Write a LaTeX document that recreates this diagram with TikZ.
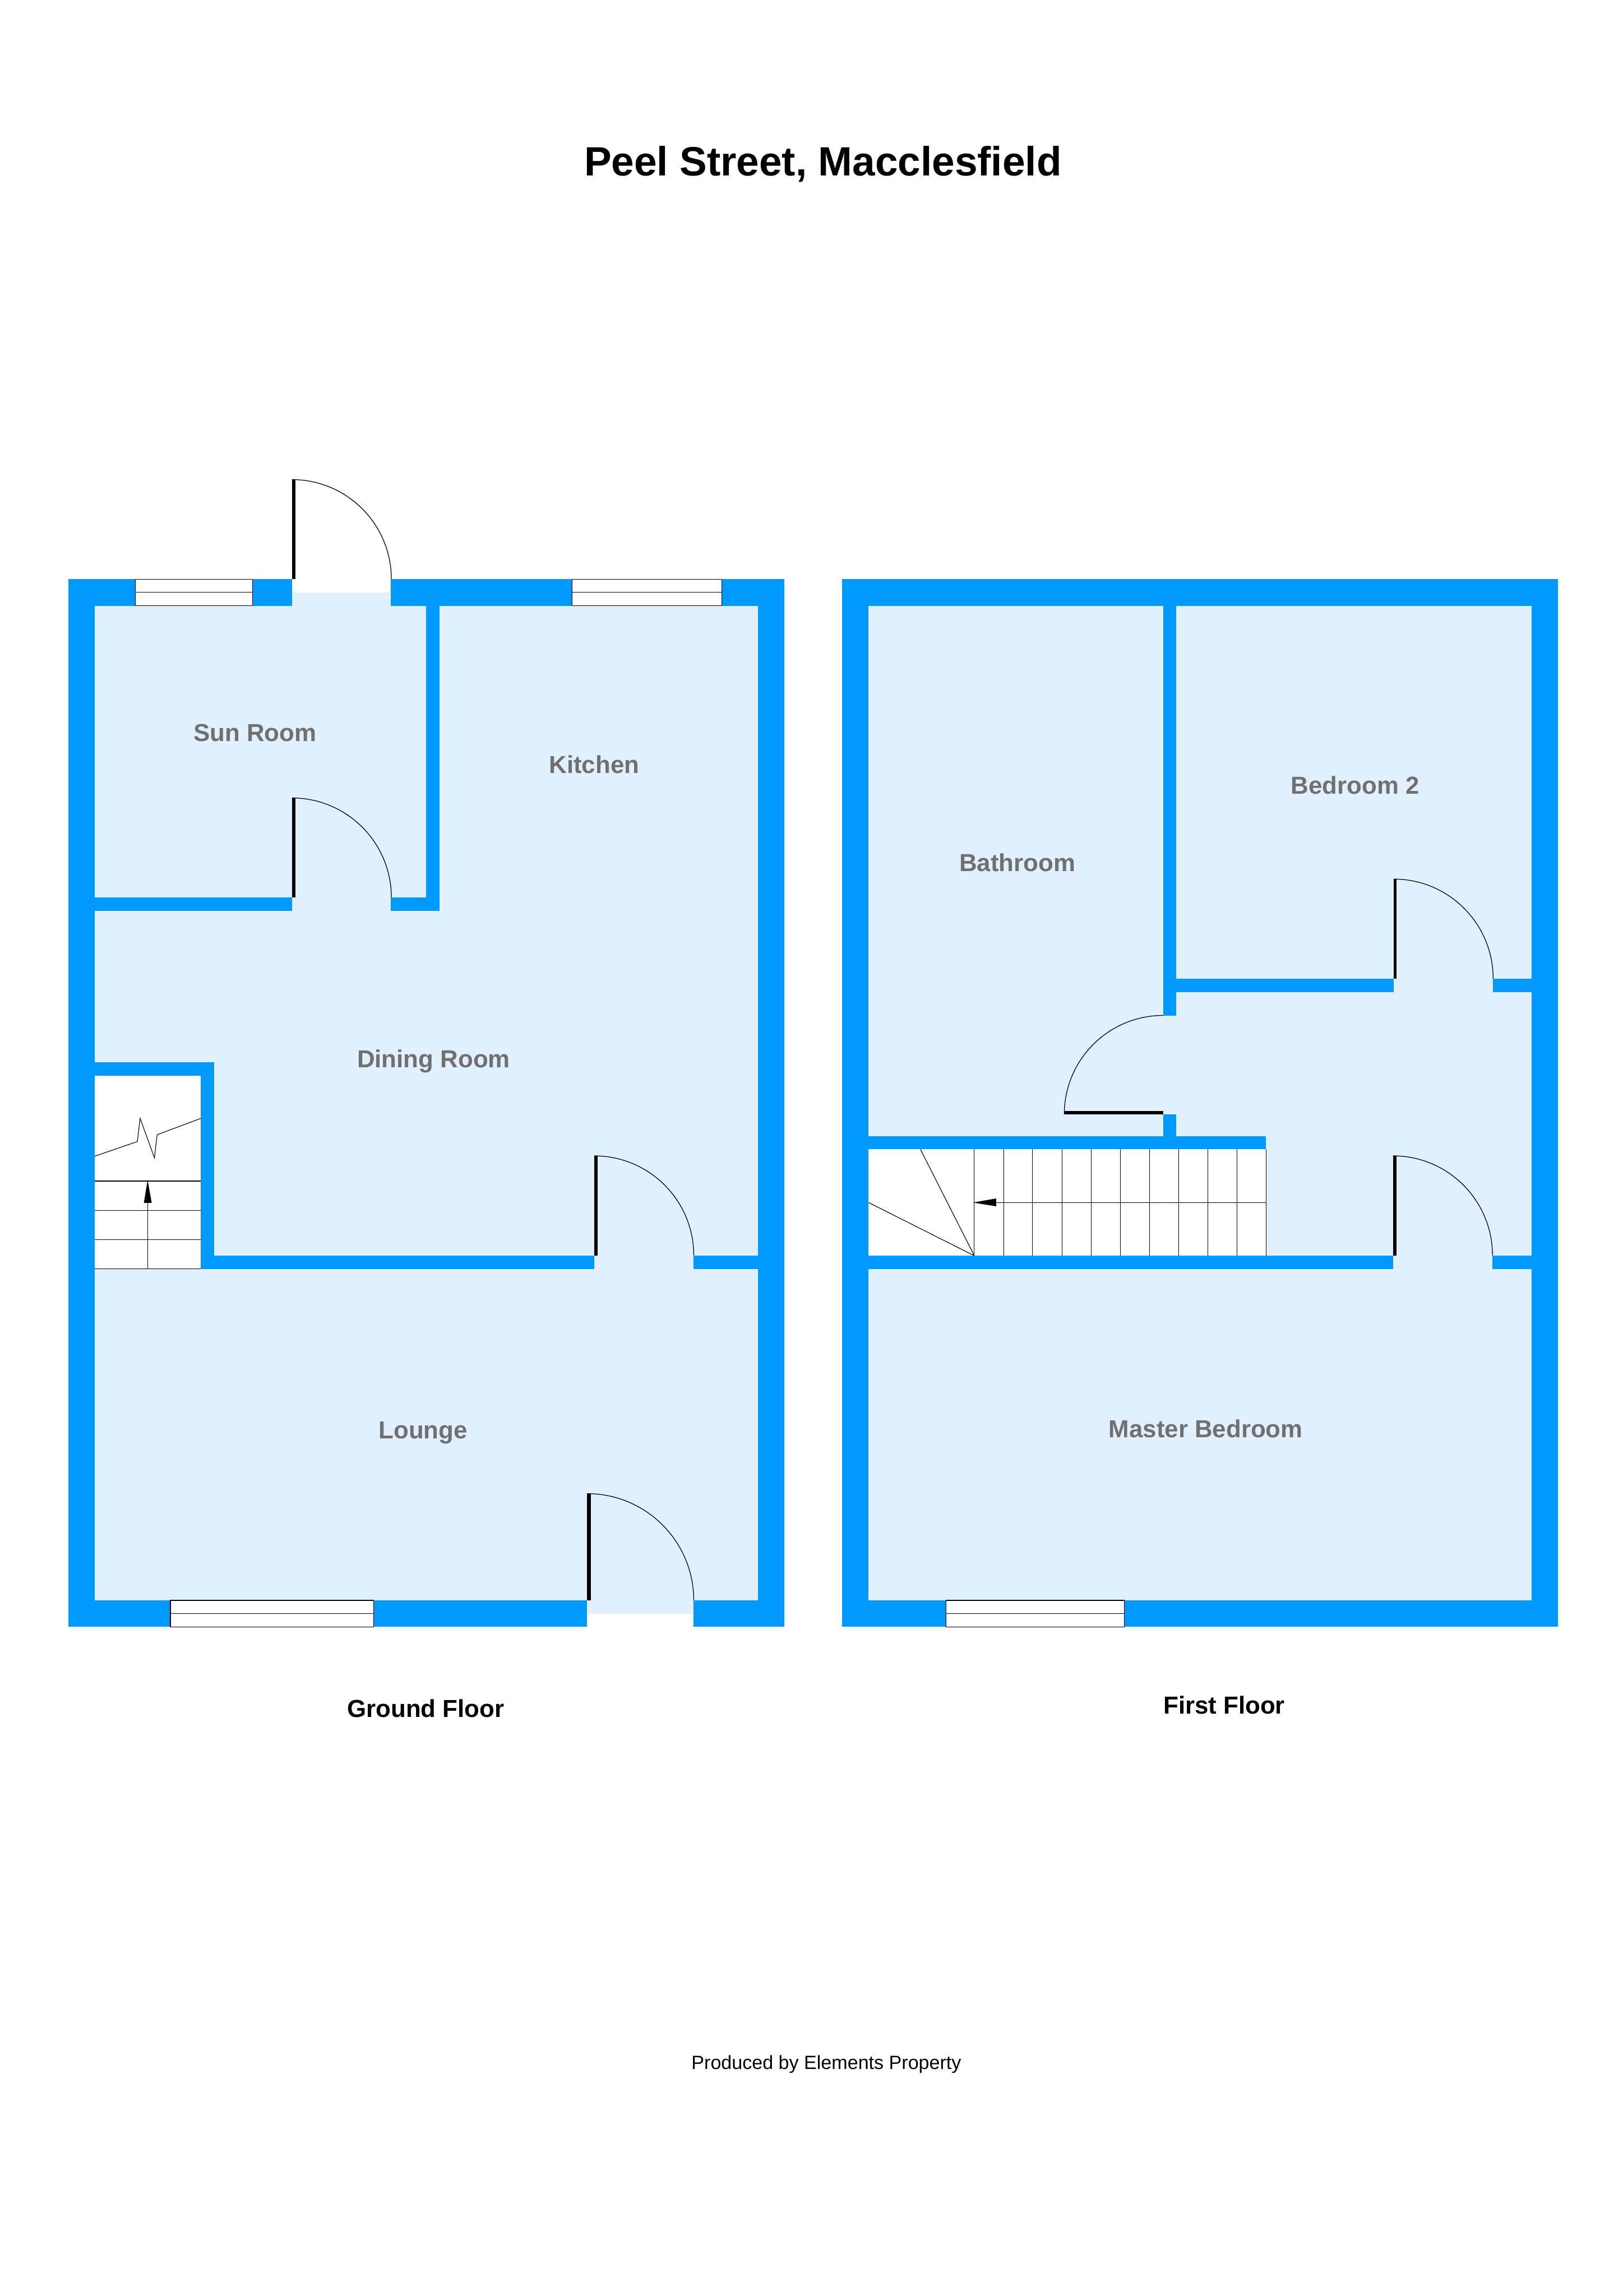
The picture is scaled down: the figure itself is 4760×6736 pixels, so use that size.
\documentclass[tikz,border=0pt]{standalone}
\usepackage{fontspec}
\setmainfont{Liberation Sans}
\definecolor{wallblue}{HTML}{0099FF}
\definecolor{floorblue}{HTML}{E0F0FF}
\definecolor{labelgrey}{HTML}{707070}
\tikzset{
  wall/.style={fill=wallblue,draw=none},
  floorarea/.style={fill=floorblue,draw=none},
  clearing/.style={fill=white,draw=none},
  leaf/.style={fill=black,draw=none},
  swing/.style={draw=black,line width=0.5pt},
  fine/.style={draw=black,line width=0.45pt},
  glass/.style={fill=white,draw=none},
  roomlabel/.style={font=\fontsize{17.3}{20}\selectfont\bfseries,text=labelgrey,inner sep=0pt},
  floorlabel/.style={font=\fontsize{17.3}{20}\selectfont\bfseries,text=black,inner sep=0pt},
  titlelabel/.style={font=\fontsize{28.8}{34}\selectfont\bfseries,text=black,inner sep=0pt},
  creditlabel/.style={font=\fontsize{13.45}{16}\selectfont,text=black,inner sep=0pt}
}
% door with vertical leaf at x=#1..#2, hinge foot y=#3, radius #4
\newcommand{\vdoor}[4]{%
  \fill[leaf] (#1,#3-#4) rectangle (#2,#3);
  \draw[swing] (#1,#3-#4) .. controls ({#1+.5523*#4},#3-#4) and ({#1+#4},{#3-.5523*#4}) .. ({#1+#4},#3);
}
% window x=#1..#2, y=#3..#4
\newcommand{\wndw}[4]{%
  \fill[glass] (#1,#3) rectangle (#2,#4);
  \draw[fine] (#1,#3) rectangle (#2,#4);
  \draw[fine] (#1,{(#3+#4)/2}) -- (#2,{(#3+#4)/2});
}
\begin{document}
\begin{tikzpicture}[x=0.24pt,y=-0.24pt]
\useasboundingbox (0,0) rectangle (4760,6736);
\fill[white] (0,0) rectangle (4760,6736);

% ---- Ground floor ----
\fill[floorarea] (200,1699) rectangle (2301,4773);
\fill[clearing] (278,3155) rectangle (589,3723);
% stairs
\draw[fine] (278,3392) -- (403,3349) -- (411,3281) -- (453,3397) -- (461,3329) -- (592,3280);
\draw[fine] (278,3465) -- (589,3465) (278,3551) -- (589,3551) (278,3637) -- (589,3637) (278,3723) -- (589,3723);
\draw[fine] (433,3723) -- (433,3525);
\fill[black] (433,3462) -- (445,3529) -- (422,3529) -- cycle;
% walls
\fill[wall] (200,1699) rectangle (278,4773);
\fill[wall] (2223,1699) rectangle (2301,4773);
\fill[wall] (200,1699) rectangle (856,1777);
\fill[wall] (1147,1699) rectangle (2301,1777);
\fill[wall] (200,4695) rectangle (1722,4773);
\fill[wall] (2035,4695) rectangle (2301,4773);
\fill[wall] (1250,1777) rectangle (1289,2673);
\fill[wall] (278,2633) rectangle (856,2673);
\fill[wall] (1147,2633) rectangle (1289,2673);
\fill[wall] (278,3116) rectangle (628,3155);
\fill[wall] (589,3116) rectangle (628,3723);
\fill[wall] (589,3684) rectangle (1743,3723);
\fill[wall] (2035,3684) rectangle (2223,3723);
% openings
\fill[clearing] (856,1699) rectangle (1147,1738);
\fill[floorarea] (856,1738) rectangle (1147,1777);
\fill[floorarea] (1722,4695) rectangle (2035,4734);
\fill[clearing] (1722,4734) rectangle (2035,4773);
% doors
\vdoor{856}{866}{1699}{292}
\vdoor{856}{866}{2633}{292}
\vdoor{1743}{1753}{3683}{292}
\vdoor{1722}{1733}{4695}{313}
% windows
\wndw{397}{741}{1699}{1777}
\wndw{1678}{2117}{1699}{1777}
\wndw{500}{1096}{4695}{4773}

% ---- First floor ----
\fill[floorarea] (2470,1699) rectangle (4570,4773);
\fill[clearing] (2548,3372) rectangle (3714,3684);
% stairs
\foreach \sx in {2858,2944,3029,3115,3201,3287,3372,3458,3543,3629,3714}
  \draw[fine] (\sx,3372) -- (\sx,3684);
\draw[fine] (3714,3528) -- (2915,3528);
\fill[black] (2854,3528) -- (2922,3516) -- (2922,3539) -- cycle;
\draw[fine] (2548,3528) -- (2858,3684) -- (2700,3372);
% walls
\fill[wall] (2470,1699) rectangle (2548,4773);
\fill[wall] (4492,1699) rectangle (4570,4773);
\fill[wall] (2470,1699) rectangle (4570,1777);
\fill[wall] (2470,4695) rectangle (4570,4773);
\fill[wall] (3412,1777) rectangle (3450,2980);
\fill[wall] (3450,2871) rectangle (4088,2910);
\fill[wall] (4380,2871) rectangle (4492,2910);
\fill[wall] (3412,3269) rectangle (3450,3333);
\fill[wall] (2548,3333) rectangle (3714,3372);
\fill[wall] (2548,3684) rectangle (4086,3723);
\fill[wall] (4378,3684) rectangle (4492,3723);
% doors
\vdoor{4088}{4097}{2871}{292}
\vdoor{4086}{4096}{3683}{292}
\fill[leaf] (3122,3259) rectangle (3412,3269);
\draw[swing] (3122,3269) .. controls (3122,3109) and (3252,2979) .. (3412,2979);
% windows
\wndw{2775}{3298}{4695}{4773}

% ---- Text ----
\node[titlelabel] (title) at (2414,482) {Peel Street, Macclesfield};
\node[roomlabel] (sunroom) at (748,2150) {Sun Room};
\node[roomlabel] (kitchen) at (1743,2243) {Kitchen};
\node[roomlabel] (dining) at (1272,3114) {Dining Room};
\node[roomlabel] (lounge) at (1241,4203) {Lounge};
\node[roomlabel] (bathroom) at (2984,2530) {Bathroom};
\node[roomlabel] (bedtwo) at (3975,2304) {Bedroom 2};
\node[roomlabel] (master) at (3537,4191) {Master Bedroom};
\node[floorlabel] (ground) at (1249,5013) {Ground Floor};
\node[floorlabel] (first) at (3591,5002) {First Floor};
\node[creditlabel] (credit) at (2424,6056) {Produced by Elements Property};
\end{tikzpicture}
\end{document}
